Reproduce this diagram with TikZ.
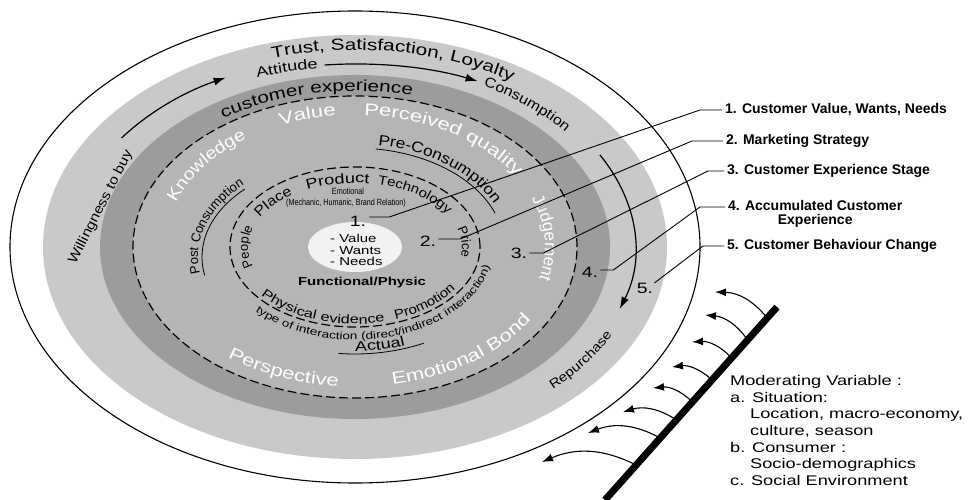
\documentclass[tikz,border=0pt]{standalone}
\usepackage{fontspec}
\setmainfont{Liberation Sans}
\newfontfamily\wideA[FakeStretch=1.3]{Liberation Sans}
\newfontfamily\wideB[FakeStretch=1.15]{Liberation Sans}
\newfontfamily\narrowA[FakeStretch=0.8]{Liberation Sans}
\usetikzlibrary{
    arrows.meta,           % Modern arrow tips
    decorations.text,      % Text along the rings
    calc                   % Coordinate calculations
}

\definecolor{ringlight}{gray}{0.79}
\definecolor{ringdark}{gray}{0.61}
\definecolor{ringmid}{gray}{0.71}
\definecolor{corewhite}{gray}{0.95}

\newcommand\fsz[1]{\fontsize{#1}{#1}\selectfont}
% text on an elliptic ring: [format]{x radius}{y radius}{from}{to}{text}
\newcommand\ringlabel[6][]{%
  \path[decorate,decoration={text along path,text align=center,text={|#1|#6}}]
    (#4:#2 and #3) arc[start angle=#4,end angle=#5,x radius=#2pt,y radius=#3pt];}

\tikzset{
  ringarrow/.style={line width=1.2pt,-{Latex[length=12pt,width=8pt]}},
  modarrow/.style={line width=1.1pt,-{Latex[length=11pt,width=8pt]}},
  leader/.style={line width=0.9pt},
  number/.style={font=\wideA\fsz{15},inner sep=0pt},
  keylabel/.style={font=\bfseries\fsz{14},inner sep=0pt,anchor=west,align=center},
  ringline/.style={dash pattern=on 9pt off 4pt,line width=1.2pt}
}

\begin{document}
\begin{tikzpicture}[x=1pt,y=1pt]
    \useasboundingbox (-355,-253) rectangle (613,247);
    % rings
    \draw[line width=1.1pt] (0,0) ellipse[x radius=345pt,y radius=236pt];
    \fill[ringlight] (0,0) ellipse[x radius=312pt,y radius=212pt];
    \fill[ringdark] (0,0) ellipse[x radius=255pt,y radius=172pt];
    \filldraw[ringline,fill=ringmid] (0,0) ellipse[x radius=222pt,y radius=151pt];
    \draw[ringline] (0,0) ellipse[x radius=125pt,y radius=80pt];
    \fill[corewhite] (0,0) ellipse[x radius=47pt,y radius=25pt];

    % arrows round the outer ring
    \draw[ringarrow] (145:285 and 190) arc[start angle=145,end angle=117,x radius=285pt,y radius=190pt];
    \draw[ringarrow] (96:290 and 183) arc[start angle=96,end angle=65,x radius=290pt,y radius=183pt];
    \draw[ringarrow] (29:280 and 190) arc[start angle=29,end angle=-19,x radius=280pt,y radius=190pt];

    % outer ring
    \ringlabel[\wideA\fsz{16}]{290}{197}{126}{36}{Trust, Satisfaction, Loyalty}
    \ringlabel[\wideA\fsz{14}]{290}{180}{124}{84}{Attitude}
    \ringlabel[\wideB\fsz{14}]{270}{183}{78}{18}{Consumption}
    \ringlabel[\wideB\fsz{13}]{288}{196}{300}{350}{Repurchase}
    \node[rotate=63,font=\wideB\fsz{13.5}] (buy) at (-254,40) {Willingness to buy};
    \ringlabel[\wideA\fsz{16}]{232}{156}{141}{61}{customer experience}

    % white words
    \ringlabel[\color{white}\wideA\fsz{17}]{190}{132}{130}{80}{Value}
    \ringlabel[\color{white}\wideA\fsz{17}]{190}{132}{98}{18}{Perceived quality}
    \ringlabel[\color{white}\wideB\fsz{17}]{190}{132}{180}{110}{Knowledge}
    \ringlabel[\color{white}\fsz{17}]{190}{132}{33}{-26}{Judgement}
    \ringlabel[\color{white}\wideA\fsz{17}]{206}{140}{212}{282}{Perspective}
    \ringlabel[\color{white}\wideA\fsz{17}]{206}{140}{267}{347}{Emotional Bond}

    % stages
    \ringlabel[\wideB\fsz{15}]{153}{103}{91}{11}{Pre-Consumption}
    \draw[line width=0.8pt] (82:149 and 99) arc[start angle=82,end angle=20,x radius=149pt,y radius=99pt];
    \begin{scope}[shift={(-7,-10)}]
        \ringlabel[\fsz{13}]{150}{100}{203}{123}{Post Consumption}
        \draw[line width=0.8pt] (191:146 and 96) arc[start angle=191,end angle=135,x radius=146pt,y radius=96pt];
    \end{scope}
    \ringlabel[\wideA\fsz{14}]{154}{104}{255}{305}{Actual}
    \draw[line width=0.8pt] (264:157 and 107) arc[start angle=264,end angle=296,x radius=157pt,y radius=107pt];
    \ringlabel[\wideA\fsz{10.5}]{138}{93}{212}{362}{type of interaction (direct/indirect interaction)}

    % marketing mix
    \ringlabel[\wideA\fsz{14}]{107}{64}{130}{70}{Product}
    \ringlabel[\wideB\fsz{13}]{107}{64}{87}{17}{Technology}
    \ringlabel[\wideB\fsz{14}]{107}{64}{172}{112}{Place}
    \ringlabel[\fsz{13}]{107}{64}{215}{145}{People}
    \ringlabel[\fsz{13}]{107}{64}{33.6}{-26.4}{Price}
    \ringlabel[\wideA\fsz{12.5}]{120}{77}{205}{295}{Physical evidence}
    \ringlabel[\wideB\fsz{13}]{120}{77}{276}{346}{Promotion}

    % core
    \node[font=\narrowA\fsz{9}] (emo) at (-7,56) {Emotional};
    \node[font=\narrowA\fsz{9}] (mech) at (-9,44) {(Mechanic, Humanic, Brand Relation)};
    \node[font=\wideA\fsz{11.5},align=left,anchor=west,inner sep=0pt] (core) at (-25,-3) {- Value\\- Wants\\- Needs};
    \node[font=\wideA\bfseries\fsz{11.5}] (func) at (7,-36) {Functional/Physic};

    % numbers and key
    \node[number] (n1) at (3,26) {1.};
    \node[number] (n2) at (73,6) {2.};
    \node[number] (n3) at (164,-6) {3.};
    \node[number] (n4) at (235,-25) {4.};
    \node[number] (n5) at (290,-41) {5.};
    \node[keylabel] (l1) at (370,137) {1. Customer Value, Wants, Needs};
    \node[keylabel] (l2) at (371,106) {2. Marketing Strategy};
    \node[keylabel] (l3) at (372,76) {3. Customer Experience Stage};
    \node[keylabel] (l4) at (373,33) {4. Accumulated Customer\\Experience};
    \node[keylabel] (l5) at (372,1) {5. Customer Behaviour Change};
    \draw[leader] ([shift={(3,4)}]n1.east) -- ++(20,0) -- ([xshift=-25pt]l1.west) -- ([xshift=-3pt]l1.west);
    \draw[leader] ([shift={(2,2)}]n2.east) -- ++(22,0) -- ([xshift=-34pt]l2.west) -- ([xshift=-3pt]l2.west);
    \draw[leader] ([shift={(2,0)}]n3.east) -- ++(14,0) -- ([xshift=-19pt]l3.west) -- ([xshift=-3pt]l3.west);
    \draw[leader] ([shift={(2,2)}]n4.east) -- ++(13,0) -- ([shift={(-28,7)}]l4.west) -- ([shift={(-3,7)}]l4.west);
    \draw[leader] ([shift={(1,5)}]n5.east) -- ([xshift=-24pt]l5.west) -- ([xshift=-3pt]l5.west);

    % moderating variable
    \coordinate (walltop) at (422,-60);
    \coordinate (wallbot) at (250,-253);
    \draw[line width=7pt] (walltop) -- (wallbot);
    \foreach \f/\tx/\ty in {0.057/360/-45,0.171/350/-68,0.264/337/-95,0.378/317/-120,
                            0.492/298/-141,0.585/268/-165,0.679/233/-186,0.819/187/-215}
        \draw[modarrow] ($(walltop)!\f!(wallbot)$) to[bend right=25] (\tx,\ty);
    \node[font=\wideA\fontsize{14}{16.7}\selectfont,align=left,anchor=north west,inner sep=0pt] (moder) at (375,-128)
        {Moderating Variable :\\a. Situation:\\\hspace*{20pt}Location, macro-economy,\\\hspace*{20pt}culture, season\\
         b. Consumer :\\\hspace*{20pt}Socio-demographics\\c. Social Environment};
\end{tikzpicture}
\end{document}
